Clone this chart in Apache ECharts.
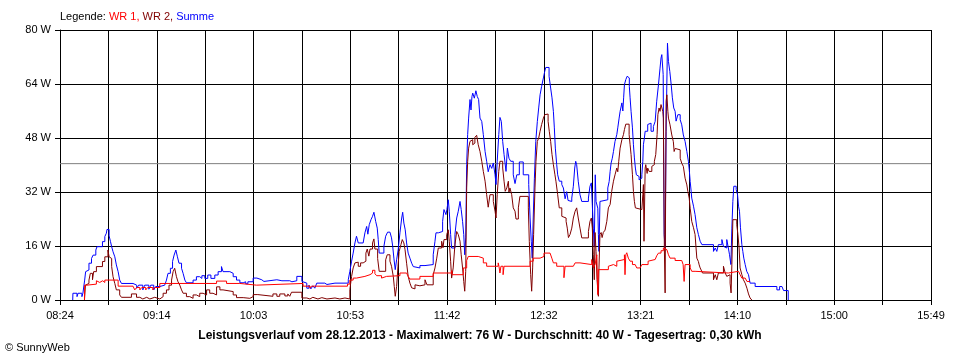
<!DOCTYPE html>
<html><head><meta charset="utf-8">
<script src="https://cdn.jsdelivr.net/npm/echarts@6/dist/echarts.min.js"></script>
<style>html,body{margin:0;padding:0;background:#fff}#c{width:960px;height:360px}</style>
</head><body><div id="c"></div>
<script>
// x tick labels (every second grid line)
const tickLabels = ['08:24','09:14','10:03','10:53','11:42','12:32','13:21','14:10','15:00','15:49'];
// axis start in minutes since midnight (08:24:48) and grid step (minutes)
const axisStartMin = 504.8;
const gridStepMin = 24.725;
const gridSteps = 18;
// y axis
const yMax = 80, yStep = 16;
// average line (W)
const averageW = 40.4;

// [minutes since midnight, W]
const summe = [[511.3,0],[511.4,2.0],[513.5,1.0],[514.0,2.0],[516.0,1.0],[516.5,2.0],[517.4,5.9],[517.9,8.4],[518.6,8.9],[519.6,10.9],[520.9,12.3],[521.7,13.3],[523.1,14.8],[523.7,15.8],[526.5,17.3],[527.7,18.8],[528.5,19.8],[528.8,20.9],[529.9,19.0],[530.6,17.3],[531.2,15.8],[531.9,14.3],[532.8,12.8],[533.6,10.4],[534.5,8.4],[535.3,5.9],[536.2,4.9],
[542.1,4.4],[544.0,3.5],[545.0,4.4],[547.1,3.0],[548.1,4.4],[550.2,3.2],[551.2,4.4],[552.7,3.0],[553.7,4.0],[555.8,3.5],[556.8,4.4],[558.3,4.9],[559.2,5.9],[560.0,7.9],[561.2,9.4],[562.3,11.4],[563.1,13.3],[564.0,14.8],[564.8,12.8],[565.6,10.9],[566.9,9.4],[567.7,7.9],[568.6,5.9],[569.4,5.1],
[572.8,5.9],[574.5,6.9],[576.2,6.4],[577.3,7.2],[578.8,6.4],[580.3,7.4],[581.9,6.4],[583.9,7.4],[585.6,8.4],[587.3,9.9],[588.1,8.4],[591.6,7.9],[593.3,6.9],[595.0,5.9],[596.7,5.1],[598.4,5.4],[599.7,4.8],[600.8,5.4],[603.5,6.5],[605.4,6.0],[607.9,5.5],[609.0,6.0],
[615.6,5.7],[618.2,5.2],[619.2,5.7],[622.2,5.4],[623.3,5.7],[625.8,7.0],[628.4,5.5],[629.0,5.0],[630.9,3.5],[632.0,4.4],[633.0,3.3],[634.0,4.2],[635.0,3.5],[636.0,5.0],[640.1,4.6],[641.2,5.0],[645.3,4.6],[646.3,5.0],
[652.1,6.0],[652.9,8.5],[653.8,11.5],[654.6,13.9],[655.5,16.9],[656.3,18.9],[657.2,16.9],[659.7,17.4],[660.6,19.9],[661.5,21.8],[662.1,19.5],[662.8,22.3],[663.7,23.8],[664.5,24.8],[665.2,26.0],[666.1,23.3],[666.9,21.3],[667.4,17.9],[667.9,13.9],[670.3,15.9],[671.2,18.9],[672.2,20.1],[673.4,19.8],[674.2,18.4],[674.8,15.9],[675.4,12.4],[676.1,9.0],[676.8,11.9],[677.6,14.9],[678.5,19.9],[679.4,24.3],[679.9,26.0],[680.5,22.8],[681.2,20.8],[681.9,16.9],[682.7,13.9],[683.6,12.4],[684.5,10.9],[685.3,9.9],[686.2,9.5],[688.7,10.2],[691.3,9.8],[692.3,10.5],
[695.5,13.4],[696.4,17.4],[696.9,19.9],[698.1,20.3],[700.3,23.3],[701.0,26.8],[702.0,25.3],[702.5,26.8],[703.2,29.7],[703.7,26.3],[704.4,19.4],[704.9,15.4],[706.6,19.4],[707.5,24.3],[708.3,26.3],[709.2,29.2],[709.8,26.8],[710.5,23.3],[711.1,19.4],[711.6,13.4],[712.1,18.4],[712.6,40.1],[713.1,49.0],[713.6,53.9],[714.3,59.4],[714.8,56.3],[715.3,60.3],[715.7,61.3],[716.5,59.8],[717.3,62.0],[718.0,60.3],[718.7,59.4],[719.4,53.9],[720.3,52.9],[721.1,49.0],[722.0,44.0],[722.8,41.1],[723.6,38.0],[724.5,40.1],[725.4,39.0],[726.2,40.6],[727.1,37.1],[727.6,34.2],[728.2,41.1],[729.0,49.0],[729.6,54.1],[730.3,52.9],[731.0,47.0],[731.7,43.1],[732.2,40.6],[732.7,38.1],[733.4,45.0],[734.2,42.0],[735.1,41.1],[736.4,37.1],[737.3,34.5],[738.2,37.1],[739.5,40.9],[741.5,37.1],[744.3,34.2],[745.0,24.3],[745.6,17.4],[746.1,12.4],[746.6,24.3],[747.2,36.1],[747.9,47.0],[748.7,52.9],[749.4,56.9],[750.1,60.8],[750.9,63.3],[751.8,65.8],[752.5,67.8],[753.0,68.9],[754.7,66.3],[755.5,62.8],[756.2,59.9],[756.9,55.9],[757.4,51.0],[757.9,45.0],[758.6,40.1],[759.1,37.1],[759.9,35.2],[761.2,34.2],[762.0,33.2],[762.9,30.0],[763.7,32.1],[764.4,29.5],[765.4,29.2],[766.3,30.2],[767.1,33.7],[767.8,39.1],[768.3,41.1],[768.8,40.1],[769.6,35.2],[770.5,31.2],[771.4,29.2],[774.8,30.2],[775.6,33.7],[776.3,34.7],[776.8,28.2],[777.3,21.3],[777.8,15.9],[778.3,37.1],[778.7,29.2],[779.6,27.2],[779.9,19.4],[780.2,14.4],[780.7,29.2],[781.6,29.7],
[784.7,33.2],[785.4,35.1],[785.9,38.1],[786.4,40.6],[787.0,42.0],[787.6,44.0],[788.4,47.0],[789.3,49.0],[789.8,51.0],[790.5,53.9],[791.0,55.9],[791.9,58.4],[792.4,56.0],[792.8,59.9],[793.2,63.8],[793.9,65.3],[794.6,66.3],[795.2,65.8],[795.7,63.3],[796.1,59.9],[796.6,55.9],[797.3,51.0],[797.8,46.0],[798.3,42.1],[798.8,39.1],[799.3,37.1],[800.0,36.6],[800.7,35.6],[801.2,36.1],[802.1,37.1],[802.6,41.1],[802.9,46.0],[803.4,48.0],[803.8,50.0],[805.1,52.0],[805.8,52.4],[806.8,50.0],[808.0,51.4],[808.9,52.9],[809.7,58.9],[810.6,63.8],[811.4,68.7],[811.9,71.7],[812.3,72.7],[813.0,66.8],[813.5,19.4],[814.0,15.4],[814.5,50.0],[815.2,76.1],[815.7,70.7],[816.4,67.7],[817.1,63.8],[817.7,59.9],[818.4,56.9],[819.1,55.9],[819.6,53.0],[820.5,54.9],[821.7,53.4],[822.5,51.9],[823.3,48.9],[824.2,47.0],[825.1,44.0],[825.9,41.1],[826.4,38.1],[826.8,35.1],[827.3,32.2],[827.6,30.2],[828.5,27.8],[829.3,25.3],[830.2,21.4],[831.0,19.4],[831.9,17.4],[832.8,16.4],[838.7,14.4],[839.6,15.4],[840.4,14.4],[841.2,16.4],[843.0,17.9],[843.8,15.9],[844.7,15.4],[845.5,17.9],[846.3,15.4],[846.9,13.4],[847.6,10.5],[848.1,21.3],[848.6,29.2],[849.1,33.7],[850.3,32.7],[851.0,31.2],[851.5,27.8],[852.0,26.3],[852.5,21.4],[853.2,16.4],[853.7,14.4],[854.2,12.4],[854.9,10.5],[855.7,8.5],[856.6,7.5],[857.4,5.0],[860.0,4.0],[871.1,3.0],[872.5,4.0],[873.7,3.5],[874.5,2.8],[876.9,0]];

const wr2 = [[517.3,0],[517.8,4.4],[518.6,4.9],[519.6,5.9],[520.3,7.9],[521.4,6.0],[522.0,8.4],[523.4,9.9],[526.5,11.4],[527.7,12.8],[529.3,14.8],[529.9,12.8],[530.6,12.3],[531.2,9.9],[531.9,6.9],[532.8,4.9],[533.6,3.0],[535.3,1.5],[536.2,0.8],[541.3,1.8],[543.9,0.8],[545.6,0.3],[547.1,0.8],[549.1,0.3],[550.7,0.8],[553.2,0.3],[555.8,0.8],[556.6,1.0],[557.5,2.0],[559.2,3.0],[560.5,4.4],[561.8,5.9],[562.6,8.4],[563.4,9.4],[564.3,6.9],[565.1,5.4],[566.0,4.4],[566.9,3.0],[567.7,2.0],[569.4,1.0],[571.1,0.5],[572.8,1.5],[574.5,1.0],[576.2,2.0],[577.9,1.5],[579.7,3.0],[581.3,2.0],[583.0,1.5],[584.8,3.9],[586.5,3.0],[588.1,2.5],[593.3,1.5],[595.0,0.7],[598.4,0.5],[601.8,1.0],[603.5,1.6],[605.9,1.1],[613.6,1.8],[615.6,1.1],[617.1,1.8],[619.7,1.2],[621.2,1.8],[622.2,1.1],[623.1,2.3],[628.4,0.6],[630.9,0.3],[632.5,0.8],[634.0,0.3],[636.6,0.7],[638.6,0.3],[641.2,0.6],[645.3,0.3],[647.8,0.6],[650.4,0.3],
[652.9,3.1],[653.8,7.0],[654.6,9.5],[655.5,11.0],[656.3,11.2],[657.2,10.0],[658.4,11.0],[659.7,11.5],[661.1,13.9],[661.8,15.1],[662.6,13.0],[663.2,15.1],[664.5,16.9],[665.2,18.1],[665.7,15.1],[667.1,12.3],[667.9,8.5],[671.2,11.9],[672.0,13.4],[673.4,11.5],[674.2,10.0],[675.1,7.0],[675.6,4.0],[676.1,1.1],[676.8,4.0],[677.5,10.0],[678.1,14.4],[679.0,16.4],[679.7,17.9],[680.5,16.9],[681.1,14.9],[681.9,10.9],[682.7,7.0],[683.6,5.0],[684.5,3.6],[685.3,3.3],[686.2,4.5],[687.0,4.2],[688.7,4.5],[691.3,6.0],[692.3,4.5],
[695.5,7.5],[696.4,9.5],[697.3,12.4],[698.1,15.4],[699.8,17.4],[700.5,15.5],[701.0,17.9],[702.4,19.4],[703.2,20.8],[703.7,17.4],[704.4,11.5],[704.9,6.5],[705.7,9.5],[706.6,16.4],[707.5,20.3],[708.3,19.4],[709.2,17.4],[709.8,13.4],[710.5,9.5],[711.1,5.5],[711.6,2.6],[712.1,8.5],[712.6,33.2],[713.1,41.1],[713.6,45.0],[714.3,47.0],[715.2,47.5],[715.7,46.0],[716.0,46.5],[716.8,48.2],[717.7,48.8],[718.5,46.0],[719.4,44.0],[720.3,41.1],[721.1,38.1],[722.0,35.2],[722.8,31.2],[723.6,27.5],[724.5,31.2],[726.2,29.2],[727.1,26.3],[727.6,24.3],[728.2,31.2],[729.0,38.1],[729.6,41.1],[731.0,39.1],[731.7,35.2],[732.3,32.2],[733.1,33.2],[733.9,35.2],[734.2,32.0],[734.7,33.2],[735.6,31.2],[736.4,27.3],[737.3,26.3],[737.8,24.0],[739.0,27.3],[739.8,30.7],[744.1,27.3],[744.6,17.4],[745.3,7.5],[745.8,2.6],[746.3,9.5],[746.8,19.4],[747.5,33.2],[748.0,41.1],[748.7,47.0],[749.4,48.0],[750.1,50.0],[750.9,52.0],[751.8,53.9],[752.5,54.9],[753.5,55.1],[754.2,52.9],[754.8,50.0],[755.5,47.0],[756.2,43.1],[756.9,40.1],[757.7,37.1],[758.2,35.2],[759.1,31.2],[759.9,27.3],[761.2,24.8],[762.0,24.3],[763.4,23.3],[764.0,21.3],[764.6,18.5],[765.4,19.4],[766.3,21.3],[767.1,24.3],[768.0,26.3],[768.8,27.3],[769.6,24.3],[770.5,21.3],[771.4,18.4],[774.8,20.3],[775.6,23.3],[776.3,24.3],[776.8,21.3],[777.3,13.4],[777.8,6.0],[778.2,20.0],[778.7,14.4],[779.2,6.0],[779.6,3.0],[779.9,1.1],[780.2,9.5],[780.7,19.4],[781.3,20.0],[781.8,18.5],[782.4,20.0],[783.3,20.7],[784.2,23.3],[785.0,27.3],[785.9,28.3],[786.7,32.2],[787.6,35.2],[788.4,37.1],[789.3,39.1],[789.8,38.0],[790.3,41.1],[791.0,45.0],[791.9,47.5],[792.7,49.0],[793.2,50.5],[793.9,52.1],[795.6,49.0],[796.1,46.0],[796.6,43.1],[797.3,37.1],[797.8,32.2],[798.3,29.2],[798.8,27.3],[799.5,26.8],[802.1,27.3],[802.6,31.2],[802.9,34.2],[803.2,17.4],[803.8,39.1],[804.1,40.1],[804.8,37.5],[805.1,39.1],[805.8,38.1],[807.2,39.6],[808.0,40.1],[808.5,41.1],[809.2,43.1],[809.9,49.0],[810.3,54.9],[810.9,56.9],[811.4,55.9],[811.9,57.9],[812.3,58.4],[812.8,55.9],[813.1,53.9],[813.6,15.4],[814.0,2.1],[814.5,58.9],[814.9,60.8],[815.4,55.9],[815.7,53.9],[816.5,51.9],[817.4,48.9],[818.2,46.9],[818.6,44.0],[819.1,44.9],[820.0,44.5],[821.7,42.0],[822.5,40.5],[823.3,39.6],[824.2,36.1],[825.1,34.1],[825.6,32.2],[826.3,30.2],[826.8,27.2],[827.6,23.3],[828.5,21.4],[829.3,19.4],[829.8,15.4],[830.2,12.4],[831.0,11.4],[831.4,10.4],[831.9,9.5],[832.4,8.9],[833.1,8.0],[838.7,6.0],[839.6,7.5],[840.4,6.0],[841.2,8.0],[843.8,10.0],[844.7,8.0],[845.5,7.0],[846.3,7.5],[847.2,5.0],[847.7,2.1],[848.1,10.5],[848.6,23.8],[850.6,22.3],[851.2,19.4],[851.8,15.4],[852.3,9.5],[853.2,7.5],[854.0,6.0],[854.9,5.0],[855.8,3.5],[856.6,1.8],[857.4,0.6],[858.3,0]];

const wr1 = [[517.3,0],[517.4,4.4],[518.6,4.7],[523.4,5.7],[524.1,5.2],[525.1,5.7],[526.6,5.2],[527.7,5.9],[534.5,4.1],[542.1,3.7],[543.0,3.0],[544.0,3.7],[545.6,3.0],[546.6,3.7],[548.6,3.0],[549.6,3.7],[552.2,3.0],[553.2,3.7],[555.8,4.9],[584.8,5.6],[589.9,4.9],[596.7,4.4],[605.2,4.9],[629.0,4.1],[632.5,3.5],[633.3,4.1],[651.7,4.7],[652.9,5.9],[654.6,6.5],[656.3,6.0],[657.2,7.0],[660.6,7.5],[663.2,8.0],[664.5,8.8],[665.7,7.8],[666.6,7.2],[669.1,6.5],[669.8,7.0],[671.7,7.2],[678.5,8.0],[681.9,7.6],[682.7,7.0],[683.6,6.2],[688.7,7.0],[695.5,8.0],[704.9,8.7],[705.2,7.5],[710.9,9.5],[712.6,11.7],[713.4,12.9],[718.5,12.4],[721.1,11.0],[722.8,10.0],[728.7,11.0],[729.1,10.0],[729.6,8.0],[730.1,10.0],[731.2,7.5],[731.7,10.0],[745.0,11.5],[746.6,12.4],[750.1,12.9],[752.1,13.9],[755.2,13.4],[756.1,12.4],[756.9,11.0],[758.6,10.0],[762.3,6.6],[762.9,10.0],[767.1,10.3],[768.0,11.0],[770.5,10.5],[776.5,12.0],[777.3,9.5],[778.2,10.5],[779.1,13.4],[779.6,1.6],[779.9,9.0],[785.0,10.0],[785.9,10.5],[787.6,10.0],[789.3,11.5],[790.1,12.0],[793.2,13.4],[793.5,7.5],[793.9,13.4],[794.4,14.0],[795.2,12.4],[796.1,11.5],[797.3,10.5],[798.7,10.0],[799.5,9.5],[801.2,10.0],[802.1,10.5],[805.3,11.5],[806.3,12.0],[808.9,12.4],[809.7,13.1],[810.6,13.9],[811.9,14.6],[813.1,15.4],[814.0,14.9],[814.9,14.4],[815.7,13.4],[816.5,12.4],[819.1,11.7],[822.5,11.5],[823.2,10.5],[823.7,5.5],[824.2,10.5],[826.8,9.5],[827.6,8.5],[829.3,8.0],[846.3,8.5],[851.5,9.0],[852.3,7.5],[853.2,6.5],[854.9,6.0],[855.8,5.5],[857.4,5.5]];

const FONT = '"Liberation Sans", Arial, sans-serif';
const xMax = gridStepMin * gridSteps;
const toAxis = arr => arr.map(p => [p[0] - axisStartMin, p[1]]);

const chart = echarts.init(document.getElementById('c'), null, {renderer: 'canvas'});
const lineSeries = (name, data, color) => ({
  name, type: 'line', step: 'end', data: toAxis(data), symbol: 'none', showSymbol: false,
  lineStyle: {color, width: 1}, itemStyle: {color}, silent: true, animation: false
});
chart.setOption({
  animation: false,
  backgroundColor: '#fff',
  grid: {left: 60, right: 29, top: 30, bottom: 60},
  xAxis: {
    type: 'value', min: 0, max: xMax, interval: gridStepMin,
    axisLine: {show: true, lineStyle: {color: '#000', width: 1}},
    axisTick: {show: true, length: 5, lineStyle: {color: '#000', width: 1}},
    splitLine: {show: true, lineStyle: {color: '#000', width: 1}},
    axisLabel: {
      color: '#000', fontFamily: FONT, fontSize: 11, margin: 10,
      showMinLabel: true, showMaxLabel: true,
      formatter: v => { const k = Math.round(v / gridStepMin); return k % 2 === 0 ? (tickLabels[k / 2] || '') : ''; }
    }
  },
  yAxis: {
    type: 'value', min: 0, max: yMax, interval: yStep,
    axisLine: {show: true, lineStyle: {color: '#000', width: 1}},
    axisTick: {show: true, length: 5, lineStyle: {color: '#000', width: 1}},
    splitLine: {show: true, lineStyle: {color: '#000', width: 1}},
    axisLabel: {color: '#000', fontFamily: FONT, fontSize: 11, margin: 9, formatter: '{value} W'}
  },
  series: [
    {type: 'line', data: [[0, averageW], [xMax, averageW]], symbol: 'none', silent: true,
     lineStyle: {color: '#808080', width: 1}},
    lineSeries('Summe', summe, '#0000ff'),
    lineSeries('WR 2', wr2, '#800000'),
    lineSeries('WR 1', wr1, '#ff0000')
  ],
  graphic: [
    {type: 'text', left: 60, top: 11, style: {
      text: '{k|Legende: }{a|WR 1, }{b|WR 2, }{c|Summe}',
      font: '11px ' + FONT,
      rich: {
        k: {fill: '#000', fontFamily: FONT, fontSize: 11},
        a: {fill: '#ff0000', fontFamily: FONT, fontSize: 11},
        b: {fill: '#800000', fontFamily: FONT, fontSize: 11},
        c: {fill: '#0000ff', fontFamily: FONT, fontSize: 11}
      }}},
    {type: 'text', left: 'center', top: 330, style: {
      text: 'Leistungsverlauf vom 28.12.2013 - Maximalwert: 76 W - Durchschnitt: 40 W - Tagesertrag: 0,30 kWh',
      font: 'bold 12px ' + FONT, fill: '#000'}},
    {type: 'text', left: 5, top: 342, style: {text: '© SunnyWeb', font: '11px ' + FONT, fill: '#000'}}
  ]
});
</script></body></html>
